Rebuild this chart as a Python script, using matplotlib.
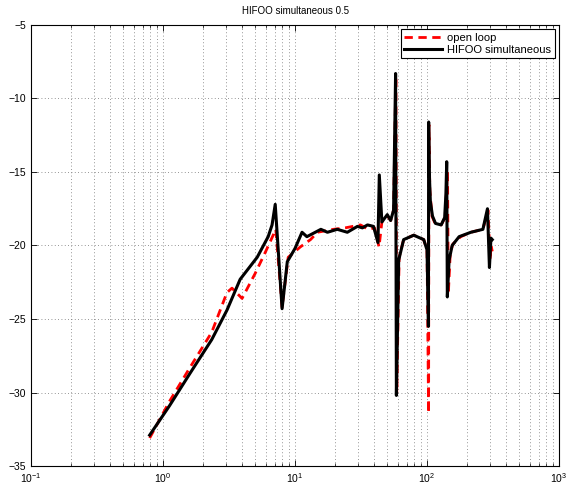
import numpy as np
import matplotlib
matplotlib.use("Agg")
import matplotlib.pyplot as plt

# Data (frequency, magnitude)
open_loop_freq = [0.792, 1.12, 1.6, 2.34, 3.05, 3.33, 3.97, 4.99, 6.0, 6.83, 7.15,
                  7.98, 8.88, 10.96, 13.1, 14.8, 19.5, 24.0, 31.3, 36.0, 40.0,
                  43.3, 45.5, 50.3, 53.0, 55.8, 58.1, 59.0, 61.5, 66.5, 79.3,
                  94.4, 100.0, 102.8, 103.4, 105.0, 109.0, 115.0, 128.0, 137.0,
                  143.0, 145.0, 150.0, 157.0, 180.0, 215.0, 265.0, 290.0, 300.0,
                  306.0, 312.0]
open_loop_mag = [-33.1, -30.6, -28.3, -25.9, -23.2, -22.9, -23.6, -21.9, -20.4,
                 -19.3, -18.9, -24.2, -20.8, -20.1, -19.6, -19.1, -18.9, -18.8,
                 -18.6, -18.9, -18.8, -20.1, -18.4, -18.0, -18.3, -17.6, -8.5,
                 -30.0, -20.8, -19.6, -19.3, -19.6, -20.3, -31.4, -11.8, -16.2,
                 -18.0, -18.5, -18.6, -18.1, -15.0, -23.3, -20.5, -19.9, -19.4,
                 -19.1, -18.9, -17.6, -21.0, -20.0, -20.4]

hifoo_freq = [0.792, 1.12, 1.6, 2.34, 3.05, 3.84, 5.17, 6.26, 6.7, 7.08, 7.98,
              8.74, 10.0, 11.3, 12.3, 15.7, 17.6, 20.9, 24.9, 29.7, 32.4, 35.4,
              39.3, 42.5, 43.5, 45.5, 50.0, 53.0, 55.8, 57.8, 58.6, 61.0, 66.5,
              79.3, 94.4, 100.0, 102.5, 102.9, 104.0, 106.0, 110.0, 116.0, 128.0,
              136.0, 139.0, 141.0, 142.5, 147.0, 155.0, 175.0, 215.0, 265.0,
              287.0, 297.0, 305.0, 312.0]
hifoo_mag = [-32.9, -30.9, -28.7, -26.4, -24.4, -22.3, -20.8, -19.4, -18.6,
             -17.2, -24.3, -21.1, -20.2, -19.1, -19.4, -18.9, -19.1, -18.9,
             -19.1, -18.7, -18.8, -18.6, -18.7, -19.8, -15.2, -18.4, -17.9,
             -18.3, -17.6, -8.3, -30.2, -21.0, -19.6, -19.3, -19.6, -20.3,
             -25.5, -11.6, -15.0, -17.0, -18.0, -18.5, -18.6, -18.1, -16.5,
             -14.3, -23.5, -21.0, -20.0, -19.4, -19.1, -18.9, -17.5, -21.5,
             -19.5, -19.6]

plt.rcParams['font.family'] = ['Liberation Sans', 'DejaVu Sans']
plt.rcParams['mathtext.default'] = 'regular'

fig = plt.figure(figsize=(5.68, 4.87), dpi=100)
ax = fig.add_axes([0.0546, 0.0431, 0.9296, 0.9056])

ax.semilogx(open_loop_freq, open_loop_mag, color='red', linestyle='--',
            linewidth=2.0, dashes=(3, 2), label='open loop', zorder=3)
ax.semilogx(hifoo_freq, hifoo_mag, color='black', linewidth=2.2,
            label='HIFOO simultaneous', zorder=4)

ax.set_xlim(0.1, 1000)
ax.set_ylim(-35, -5)
ax.set_yticks(np.arange(-35, -4, 5))
ax.set_title('HIFOO simultaneous 0.5', fontsize=7, pad=8)

grid_style = dict(linestyle=(0, (1, 3)), color='0.45', linewidth=0.6)
ax.grid(True, which='major', **grid_style)
ax.grid(True, which='minor', axis='x', **grid_style)
ax.tick_params(which='both', direction='in', top=True, right=True, labelsize=7.5)
ax.tick_params(which='major', length=4, width=0.6)
ax.tick_params(which='minor', length=2, width=0.5)
for sp in ax.spines.values():
    sp.set_linewidth(0.8)

leg = ax.legend(loc='upper right', fontsize=8, fancybox=False, framealpha=1,
                edgecolor='black', handlelength=3.4, borderpad=0.3,
                labelspacing=0.2, handletextpad=0.5, borderaxespad=0.4)
leg.get_frame().set_linewidth(0.8)

fig.savefig('out.png', dpi=100)
